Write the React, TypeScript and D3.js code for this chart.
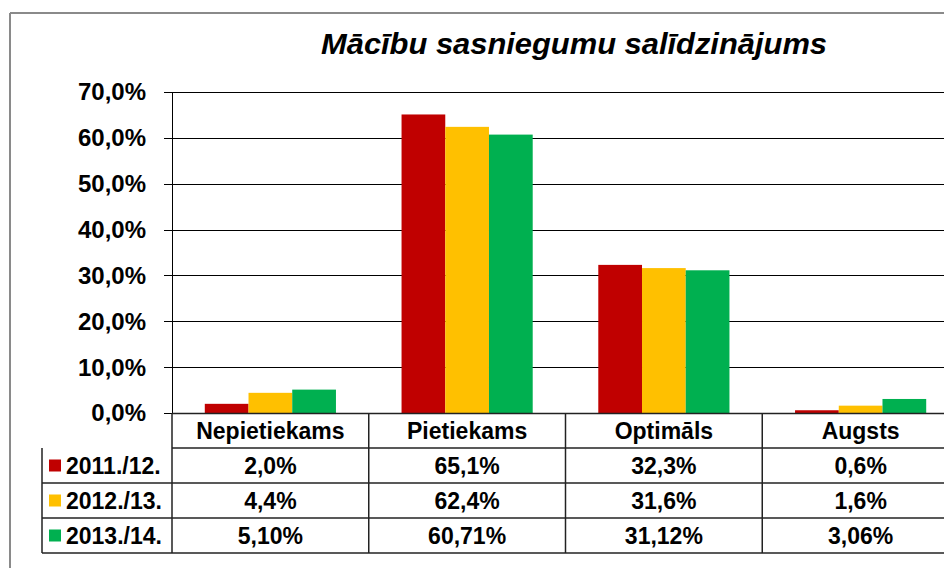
import * as d3 from 'd3';

const categories = ["Nepietiekams", "Pietiekams", "Optimāls", "Augsts"];
const seriesNames = ["2011./12.", "2012./13.", "2013./14."];
const values2011 = [2.0, 65.1, 32.3, 0.6];
const values2012 = [4.4, 62.4, 31.6, 1.6];
const values2013 = [5.10, 60.71, 31.12, 3.06];
const seriesDecimals = [1, 1, 2];
const seriesColors = ["#C00000", "#FFC000", "#00B050"];
const yTicks = [0, 10, 20, 30, 40, 50, 60, 70];
const title = "Mācību sasniegumu salīdzinājums";

const seriesValues = [values2011, values2012, values2013];

const width = 944;
const height = 568;
const margin = { top: 92, left: 172, bottom: 413, right: 959 };
const rowH = 35;
const tableLeft = 42;

const fmt = (v: number, dec: number) => v.toFixed(dec).replace(".", ",") + "%";

export default function App() {
  const x = d3.scaleBand<string>()
    .domain(categories)
    .range([margin.left, margin.right]);

  const xs = d3.scaleBand<string>()
    .domain(seriesNames)
    .range([0, x.bandwidth()])
    .paddingInner(0)
    .paddingOuter(0.75);

  const y = d3.scaleLinear()
    .domain([0, 70])
    .range([margin.bottom, margin.top]);

  const font = "'Liberation Sans', Arial, sans-serif";
  const tableBottom = margin.bottom + rowH * 4;

  return (
    <svg width={width} height={height} style={{ position: "absolute", left: 0, top: 0, background: "#fff" }} fontFamily={font}>
      {/* outer frame */}
      <line x1={10} x2={width} y1={13} y2={13} stroke="#8a8a8a" strokeWidth={2} />
      <line x1={10} x2={10} y1={13} y2={height} stroke="#8a8a8a" strokeWidth={2} />

      <text x={574} y={54} textAnchor="middle" fontSize={30} fontWeight="bold" fontStyle="italic" fill="#000"
        textLength={506} lengthAdjust="spacingAndGlyphs">
        {title}
      </text>

      {/* gridlines + y axis ticks */}
      {yTicks.map(t => (
        <g key={t}>
          <line x1={164} x2={width} y1={Math.round(y(t)) + 0.5} y2={Math.round(y(t)) + 0.5} stroke="#000" strokeWidth={1} />
          <text x={146} y={y(t)} dy="0.35em" textAnchor="end" fontSize={24} fontWeight="bold" fill="#000">
            {fmt(t, 1)}
          </text>
        </g>
      ))}
      <line x1={margin.left + 0.5} x2={margin.left + 0.5} y1={margin.top} y2={margin.bottom} stroke="#000" />

      {/* bars */}
      {categories.map((c, ci) => (
        <g key={c}>
          {seriesNames.map((s, si) => (
            <rect
              key={s}
              x={x(c)! + xs(s)!}
              y={y(seriesValues[si][ci])}
              width={xs.bandwidth()}
              height={y(0) - y(seriesValues[si][ci])}
              fill={seriesColors[si]}
            />
          ))}
        </g>
      ))}

      {/* data table */}
      <g stroke="#222" strokeWidth={1.5}>
        {[0, 1, 2, 3].map(r => (
          <line key={r} x1={r === 0 ? margin.left : tableLeft} x2={width}
            y1={margin.bottom + rowH * (r + 1)} y2={margin.bottom + rowH * (r + 1)} />
        ))}
        <line x1={tableLeft} x2={tableLeft} y1={margin.bottom + rowH} y2={tableBottom} />
        {categories.map(c => (
          <line key={c} x1={x(c)!} x2={x(c)!} y1={margin.bottom} y2={tableBottom} />
        ))}
        <line x1={margin.left} x2={width} y1={margin.bottom + 0.5} y2={margin.bottom + 0.5} />
      </g>

      {categories.map(c => (
        <text key={c} x={x(c)! + x.bandwidth() / 2} y={margin.bottom + rowH / 2} dy="0.36em"
          textAnchor="middle" fontSize={23} fontWeight="bold" fill="#000">
          {c}
        </text>
      ))}

      {seriesNames.map((s, si) => {
        const cy = margin.bottom + rowH * (si + 1) + rowH / 2;
        return (
          <g key={s}>
            <rect x={49} y={cy - 6} width={12} height={12} fill={seriesColors[si]} />
            <text x={66} y={cy} dy="0.36em" fontSize={23} fontWeight="bold" fill="#000">{s}</text>
            {categories.map((c, ci) => (
              <text key={c} x={x(c)! + x.bandwidth() / 2} y={cy} dy="0.36em"
                textAnchor="middle" fontSize={23} fontWeight="bold" fill="#000">
                {fmt(seriesValues[si][ci], seriesDecimals[si])}
              </text>
            ))}
          </g>
        );
      })}
    </svg>
  );
}
